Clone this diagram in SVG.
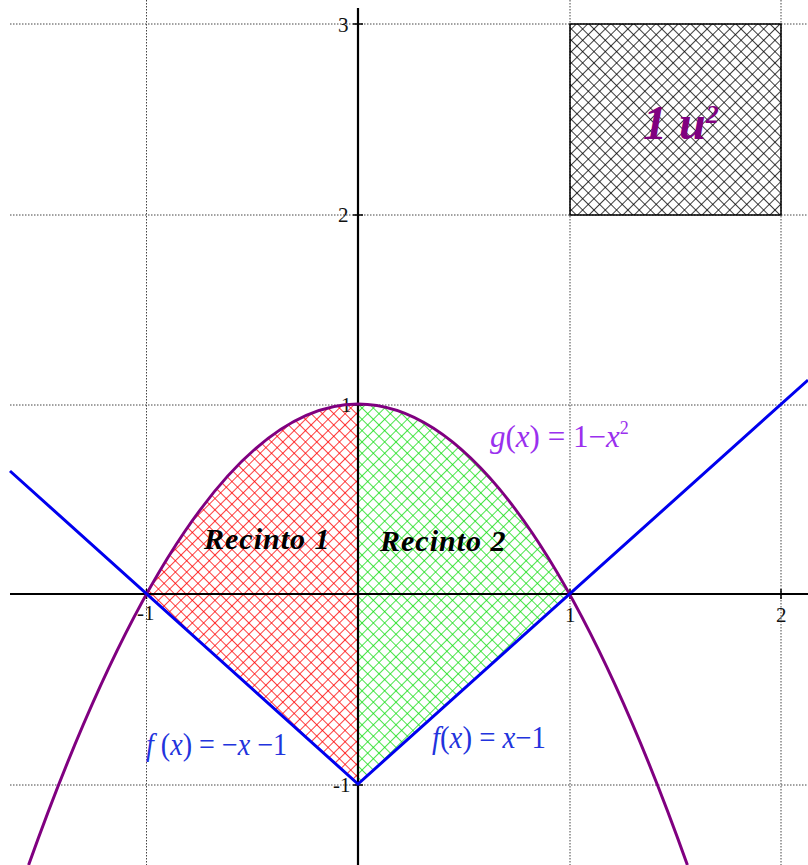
<svg xmlns="http://www.w3.org/2000/svg" width="808" height="865" viewBox="0 0 808 865">
<defs>
<pattern id="hr" width="8" height="8" patternUnits="userSpaceOnUse" patternTransform="rotate(45)"><path d="M0 0H8M0 0V8" stroke="#ff0000" stroke-width="1.5" fill="none"/></pattern>
<pattern id="hg" width="8" height="8" patternUnits="userSpaceOnUse" patternTransform="rotate(45)"><path d="M0 0H8M0 0V8" stroke="#11dd11" stroke-width="1.5" fill="none"/></pattern>
<pattern id="hk" width="8" height="8" patternUnits="userSpaceOnUse" patternTransform="rotate(45)"><path d="M0 0H8M0 0V8" stroke="#000" stroke-width="1.5" fill="none"/></pattern>
</defs>
<style>
.grid{stroke:#444;stroke-width:1;stroke-dasharray:1.5 1.5;fill:none}
.axis{stroke:#000;stroke-width:2.2;fill:none}
.tick{font-family:"Liberation Serif",serif;font-size:21px;fill:#111}
.lab{font-family:"Liberation Serif",serif;font-style:italic;font-size:31px}
.up{font-style:normal}
.rec{font-family:"Liberation Serif",serif;font-style:italic;font-weight:bold;font-size:30px;letter-spacing:1px;fill:#000}
</style>
<rect width="808" height="865" fill="#fff"/>
<g id="grid">
<path class="grid" d="M10 24H808M10 215H808M10 405H808M10 785H808M146.5 0V865M570 0V865M781 0V865"/>
</g>
<g id="unit-square">
<rect x="570" y="24" width="211" height="191" fill="url(#hk)" stroke="#000" stroke-width="1.5"/>
<text x="643" y="139" font-family="Liberation Serif,serif" font-style="italic" font-weight="bold" font-size="48" fill="#800080">1 u<tspan dy="-16" font-size="26">2</tspan></text>
</g>
<g id="recinto1">
<path d="M146.5 594Q252.25 404 358 404V784Z" fill="url(#hr)"/>
<text class="rec" x="204" y="549">Recinto 1</text>
</g>
<g id="recinto2">
<path d="M358 404Q463.75 404 569.5 594L358 784Z" fill="url(#hg)"/>
<text class="rec" x="380" y="551">Recinto 2</text>
</g>
<g id="axes">
<path class="axis" d="M10 594H808M358 8V865"/>
<path stroke="#000" stroke-width="1.5" d="M146.5 589V599M570 589V599M781 589V599M353 24H363M353 215H363M353 405H363M353 785H363"/>
<text class="tick" x="338" y="32">3</text>
<text class="tick" x="338" y="222">2</text>
<text class="tick" x="341" y="412">1</text>
<text class="tick" x="333" y="792">-1</text>
<text class="tick" x="137" y="620">-1</text>
<text class="tick" x="565" y="622">1</text>
<text class="tick" x="776" y="622">2</text>
</g>
<g id="connectors">
<path id="g-curve" d="M28.6 865Q358 -57 687.4 865" fill="none" stroke="#800080" stroke-width="3"/>
<path id="f-curve" d="M10 471L358 784L808 380" fill="none" stroke="#0000ee" stroke-width="3"/>
</g>
<g id="g-label">
<text class="lab" x="490" y="447" fill="#9a30ee">g<tspan class="up">(</tspan>x<tspan class="up">) = 1−</tspan>x<tspan dy="-13" font-size="18" class="up">2</tspan></text>
</g>
<g id="f-left-label">
<text class="lab" x="146" y="755" fill="#2233dd" textLength="141" lengthAdjust="spacingAndGlyphs">f <tspan class="up">(</tspan>x<tspan class="up">) = −</tspan>x<tspan class="up"> −1</tspan></text>
</g>
<g id="f-right-label">
<text class="lab" x="432" y="748" fill="#2233dd" textLength="114" lengthAdjust="spacingAndGlyphs">f<tspan class="up">(</tspan>x<tspan class="up">) = </tspan>x<tspan class="up">−1</tspan></text>
</g>
</svg>
